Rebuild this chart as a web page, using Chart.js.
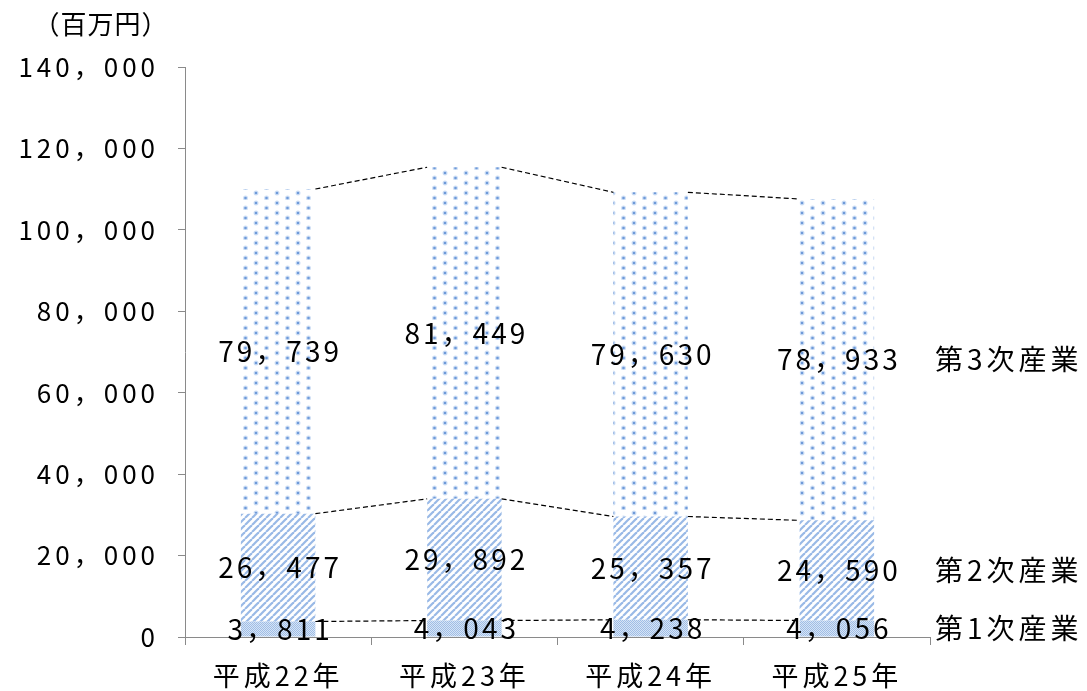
<!DOCTYPE html>
<html lang="ja">
<head>
<meta charset="utf-8">
<title>産業別生産額</title>
<script src="https://cdn.jsdelivr.net/npm/chart.js@4.4.1/dist/chart.umd.min.js"></script>
<style>
  html, body { margin: 0; padding: 0; background: #fff; }
  #wrap { position: relative; width: 1087px; height: 691px; }
</style>
</head>
<body>
<div id="wrap"><canvas id="chart"></canvas></div>
<script>
// 年度
const categories = ['平成22年', '平成23年', '平成24年', '平成25年'];
// 産業別の額（百万円）
const primaryIndustry = [3811, 4043, 4238, 4056];
const secondaryIndustry = [26477, 29892, 25357, 24590];
const tertiaryIndustry = [79739, 81449, 79630, 78933];
const seriesNames = ['第1次産業', '第2次産業', '第3次産業'];
const unitLabel = '（百万円）';
const yMin = 0, yMax = 140000, yStep = 20000;

const JP_FONT = '"Noto Sans CJK JP", "Noto Sans", sans-serif';

// 3桁区切りを全角カンマで表示
function fmt(v) {
  return Math.round(v).toLocaleString('en-US').replace(/,/g, '，');
}

// ---- 塗りパターン ----
function makeTile(w, h, paint) {
  const c = document.createElement('canvas');
  c.width = w; c.height = h;
  paint(c.getContext('2d'), w, h);
  return c;
}
const patternCtx = document.createElement('canvas').getContext('2d');

// 第1次: 細かい格子点
const checkerTile = makeTile(2, 2, (g) => {
  g.fillStyle = '#d6e4f5'; g.fillRect(0, 0, 2, 2);
  g.fillStyle = '#9fbde6'; g.fillRect(0, 0, 1, 1); g.fillRect(1, 1, 1, 1);
});
// 第2次: 右上がり斜線
const hatchTile = makeTile(7, 7, (g, w, h) => {
  g.fillStyle = '#ffffff'; g.fillRect(0, 0, w, h);
  g.strokeStyle = 'rgba(128,168,224,0.8)';
  g.lineWidth = 2.2;
  for (const off of [-w, 0, w]) {
    g.beginPath(); g.moveTo(off, h); g.lineTo(off + w, 0); g.stroke();
  }
});
// 第3次: 千鳥配置のドット
const dotTile = makeTile(21, 10, (g) => {
  g.fillStyle = '#ffffff'; g.fillRect(0, 0, 21, 10);
  const dot = (x, y) => {
    g.fillStyle = 'rgba(160,192,235,0.5)';
    g.beginPath(); g.arc(x, y, 2.5, 0, Math.PI * 2); g.fill();
    g.fillStyle = 'rgba(100,146,214,0.9)';
    g.beginPath(); g.arc(x, y, 1.3, 0, Math.PI * 2); g.fill();
  };
  dot(4, 3); dot(14.5, 8);
});
const checkerPattern = patternCtx.createPattern(checkerTile, 'repeat');
const hatchPattern = patternCtx.createPattern(hatchTile, 'repeat');
const dotPattern = patternCtx.createPattern(dotTile, 'repeat');

// ---- 区分線・数値ラベル・系列名 ----
const annotations = {
  id: 'annotations',
  beforeLayout(chart) { chart.ctx.letterSpacing = '4px'; },
  beforeDraw(chart) { chart.ctx.letterSpacing = '4px'; },
  afterDatasetsDraw(chart) {
    const ctx = chart.ctx;
    const metas = chart.data.datasets.map((_, i) => chart.getDatasetMeta(i));

    // 区分線（破線）
    ctx.save();
    ctx.letterSpacing = '0px';
    ctx.strokeStyle = '#000';
    ctx.lineWidth = 1.2;
    ctx.setLineDash([5, 3]);
    metas.forEach((meta) => {
      for (let i = 0; i < meta.data.length - 1; i++) {
        const a = meta.data[i], b = meta.data[i + 1];
        ctx.beginPath();
        ctx.moveTo(a.x + a.width / 2, a.y);
        ctx.lineTo(b.x - b.width / 2, b.y);
        ctx.stroke();
      }
    });
    ctx.restore();

    // 数値ラベル
    ctx.save();
    ctx.letterSpacing = '3px';
    ctx.font = '28px ' + JP_FONT;
    ctx.fillStyle = '#000';
    ctx.textAlign = 'center';
    ctx.textBaseline = 'middle';
    metas.forEach((meta, d) => {
      const values = chart.data.datasets[d].data;
      meta.data.forEach((el, i) => {
        ctx.fillText(fmt(values[i]), el.x + 2, (el.y + el.base) / 2);
      });
    });

    // 系列名（右端）
    ctx.letterSpacing = '4px';
    ctx.font = '28px ' + JP_FONT;
    ctx.textAlign = 'left';
    metas.forEach((meta, d) => {
      const last = meta.data[meta.data.length - 1];
      ctx.fillText(chart.data.datasets[d].label, chart.chartArea.right + 5, (last.y + last.base) / 2);
    });

    // 単位
    ctx.letterSpacing = '1px';
    ctx.font = '26px ' + JP_FONT;
    ctx.textAlign = 'center';
    ctx.fillText(unitLabel, 101, 24);
    ctx.restore();
  }
};

new Chart(document.getElementById('chart'), {
  type: 'bar',
  data: {
    labels: categories,
    datasets: [
      { label: seriesNames[0], data: primaryIndustry, backgroundColor: checkerPattern, borderWidth: 0 },
      { label: seriesNames[1], data: secondaryIndustry, backgroundColor: hatchPattern, borderWidth: 0 },
      { label: seriesNames[2], data: tertiaryIndustry, backgroundColor: dotPattern, borderWidth: 0 }
    ]
  },
  options: {
    responsive: true,
    maintainAspectRatio: false,
    animation: false,
    events: [],
    layout: { padding: { top: 67, right: 157, bottom: 0, left: 0 } },
    datasets: { bar: { categoryPercentage: 1, barPercentage: 0.4 } },
    plugins: { legend: { display: false }, tooltip: { enabled: false } },
    scales: {
      x: {
        stacked: true,
        offset: true,
        border: { color: '#8a8a8a', width: 1 },
        grid: { offset: true, drawOnChartArea: false, drawTicks: true, tickLength: 8, color: '#8a8a8a' },
        ticks: { color: '#000', font: { family: JP_FONT, size: 27 }, padding: 15, maxRotation: 0 },
        afterFit(scale) { scale.height = 54; }
      },
      y: {
        stacked: true,
        min: yMin,
        max: yMax,
        border: { color: '#8a8a8a', width: 1 },
        grid: { drawOnChartArea: false, drawTicks: true, tickLength: 7, color: '#8a8a8a' },
        ticks: {
          stepSize: yStep,
          color: '#000',
          font: { family: JP_FONT, size: 26 },
          padding: 19,
          callback: (v) => fmt(v)
        },
        afterFit(scale) { scale.width = 185; }
      }
    }
  },
  plugins: [annotations]
});
</script>
</body>
</html>
